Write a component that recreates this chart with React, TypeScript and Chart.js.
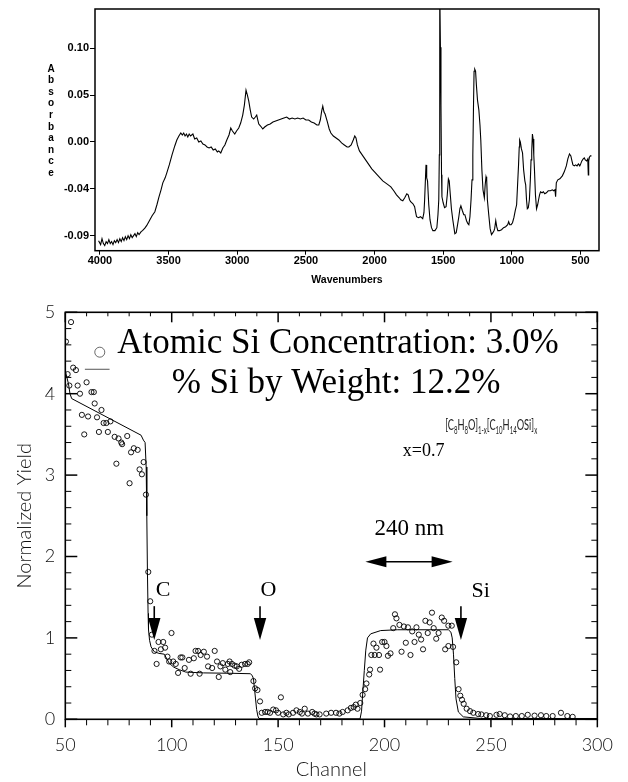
import React, { useEffect, useRef } from "react";
import { Chart, registerables } from "chart.js";

Chart.register(...registerables);

// ---------- Top panel: IR spectrum ----------
const wavenumbers = [
  4010, 3995, 3985, 3975, 3965, 3955, 3945, 3935, 3925, 3915, 3905, 3895, 3885, 3875, 3865, 3855,
  3845, 3835, 3825, 3815, 3805, 3795, 3785, 3775, 3765, 3755, 3745, 3735, 3725, 3715, 3700, 3690,
  3673, 3660, 3640, 3620, 3600, 3585, 3570, 3555, 3542, 3525, 3513, 3495, 3475, 3455, 3440, 3425,
  3411, 3400, 3390, 3380, 3370, 3360, 3350, 3340, 3323, 3310, 3295, 3280, 3265, 3250, 3235, 3220,
  3205, 3190, 3175, 3160, 3145, 3135, 3120, 3105, 3090, 3076, 3060, 3047, 3035, 3018, 3005, 2989,
  2975, 2960, 2948, 2936, 2926, 2916, 2905, 2895, 2880, 2868, 2858, 2850, 2843, 2830, 2814, 2800,
  2780, 2760, 2740, 2720, 2700, 2680, 2660, 2640, 2620, 2600, 2580, 2560, 2540, 2520, 2500, 2480,
  2460, 2440, 2420, 2406, 2395, 2385, 2377, 2368, 2360, 2345, 2330, 2318, 2300, 2280, 2260, 2240,
  2220, 2200, 2187, 2170, 2155, 2144, 2135, 2125, 2110, 2100, 2080, 2060, 2040, 2020, 2000, 1980,
  1960, 1940, 1920, 1900, 1881, 1860, 1840, 1820, 1809, 1794, 1780, 1765, 1755, 1745, 1737, 1720,
  1708, 1700, 1694, 1680, 1665, 1649, 1640, 1635, 1628, 1625, 1620, 1614, 1605, 1596, 1585, 1575,
  1560, 1546, 1538, 1532, 1528, 1526, 1524, 1520, 1516, 1512, 1509, 1500, 1490, 1479, 1470, 1462,
  1456, 1448, 1440, 1430, 1415, 1405, 1395, 1386, 1378, 1371, 1360, 1350, 1342, 1330, 1320, 1313,
  1305, 1297, 1290, 1284, 1279, 1275, 1270, 1264, 1258, 1250, 1240, 1232, 1226, 1218, 1210, 1205,
  1200, 1194, 1188, 1183, 1178, 1168, 1158, 1148, 1138, 1130, 1125, 1117, 1110, 1102, 1090, 1075,
  1060, 1045, 1030, 1023, 1015, 1005, 995, 985, 975, 965, 958, 951, 946, 943, 938, 930,
  922, 914, 905, 899, 893, 887, 880, 872, 865, 860, 855, 850, 845, 840, 835, 828,
  820, 812, 805, 798, 791, 780, 770, 760, 748, 735, 719, 705, 695, 686, 681, 676,
  665, 650, 632, 618, 603, 592, 580, 570, 562, 555, 545, 535, 525, 515, 505, 501,
  490, 480, 472, 465, 455, 447, 443, 440, 434, 428, 420,
];
const absorbance = [
  -0.096, -0.1, -0.094, -0.099, -0.101, -0.097, -0.099, -0.095, -0.099, -0.097, -0.1, -0.096, -0.098, -0.095, -0.098, -0.094,
  -0.097, -0.093, -0.096, -0.092, -0.095, -0.091, -0.094, -0.09, -0.093, -0.091, -0.089, -0.092, -0.088, -0.09, -0.087, -0.086,
  -0.0835, -0.081, -0.076, -0.071, -0.067, -0.06, -0.052, -0.045, -0.038, -0.033, -0.028, -0.02, -0.01, -0.001, 0.005, 0.009,
  0.012, 0.01, 0.012, 0.009, 0.011, 0.008, 0.011, 0.009, 0.011, 0.006, 0.007, 0.003, 0.004, 0.001, 0.0, -0.002,
  -0.003, -0.002, -0.005, -0.004, -0.007, -0.006, -0.008, -0.003, 0.0, 0.005, 0.01, 0.017, 0.014, 0.011, 0.014, 0.017,
  0.022, 0.03, 0.04, 0.055, 0.05, 0.044, 0.035, 0.028, 0.026, 0.028, 0.03, 0.025, 0.021, 0.019, 0.016, 0.018,
  0.02, 0.021, 0.023, 0.024, 0.025, 0.026, 0.027, 0.028, 0.026, 0.027, 0.026, 0.027, 0.026, 0.027, 0.025, 0.025,
  0.023, 0.022, 0.02, 0.02, 0.025, 0.034, 0.039, 0.033, 0.031, 0.024, 0.016, 0.012, 0.009, 0.007, 0.005, 0.002,
  0.0, -0.002, -0.002, 0.0, 0.005, 0.009, 0.007, 0.0, -0.006, -0.008, -0.012, -0.016, -0.02, -0.024, -0.027, -0.03,
  -0.033, -0.036, -0.038, -0.04, -0.042, -0.046, -0.05, -0.053, -0.055, -0.056, -0.053, -0.049, -0.05, -0.055, -0.057, -0.059,
  -0.062, -0.068, -0.072, -0.073, -0.072, -0.074, -0.068, -0.055, -0.03, -0.02, -0.033, -0.036, -0.06, -0.075, -0.083, -0.086,
  -0.086, -0.083, -0.07, -0.055, -0.01, 0.09, 0.16, 0.098, 0.04, -0.03, -0.052, -0.058, -0.063, -0.062, -0.05, -0.034,
  -0.036, -0.05, -0.064, -0.075, -0.089, -0.088, -0.08, -0.072, -0.064, -0.061, -0.066, -0.07, -0.07, -0.076, -0.079, -0.08,
  -0.072, -0.055, -0.035, -0.01, 0.04, 0.074, 0.076, 0.074, 0.06, 0.045, 0.035, 0.02, 0.005, -0.025, -0.045, -0.049,
  -0.053, -0.04, -0.032, -0.035, -0.055, -0.07, -0.084, -0.09, -0.088, -0.086, -0.084, -0.076, -0.082, -0.086, -0.086, -0.085,
  -0.083, -0.082, -0.08, -0.077, -0.08, -0.08, -0.078, -0.073, -0.066, -0.06, -0.04, -0.02, -0.002, 0.005, 0.003, -0.004,
  -0.008, -0.025, -0.036, -0.04, -0.055, -0.064, -0.063, -0.055, -0.035, -0.015, -0.006, 0.011, 0.006, -0.01, -0.025, -0.05,
  -0.064, -0.06, -0.055, -0.05, -0.047, -0.048, -0.047, -0.049, -0.048, -0.046, -0.046, -0.045, -0.046, -0.045, -0.052, -0.038,
  -0.035, -0.034, -0.031, -0.027, -0.021, -0.014, -0.009, -0.011, -0.016, -0.02, -0.021, -0.02, -0.021, -0.019, -0.021, -0.02,
  -0.016, -0.014, -0.013, -0.015, -0.016, -0.014, -0.03, -0.016, -0.012, -0.011, -0.011,
];
const wavenumberTicks = [4000, 3500, 3000, 2500, 2000, 1500, 1000, 500];
const absorbanceTickValues = [-0.091, -0.044, 0.003, 0.05, 0.097];
const absorbanceTickLabels = ["-0.09", "-0.04", "0.00", "0.05", "0.10"];
const absorbanceTitle = "Absorbance";
const wavenumberTitle = "Wavenumbers";

// ---------- Bottom panel: RBS spectrum ----------
const dataChannel = [
  50.3, 51.1, 51.9, 52.7, 53.7, 55.0, 55.8, 56.9, 57.8, 58.9, 60.0, 60.7, 62.3, 63.4, 63.8, 64.9,
  65.8, 67.0, 68.0, 69.3, 70.0, 71.2, 73.2, 74.0, 75.0, 76.3, 76.7, 79.1, 80.2, 80.9, 82.2, 84.0,
  84.9, 86.0, 86.8, 87.9, 89.0, 89.9, 90.7, 91.9, 92.9, 93.8, 94.9, 96.0, 96.9, 98.0, 98.8, 99.9,
  100.7, 101.9, 103.0, 104.2, 105.0, 106.1, 108.1, 108.9, 110.4, 111.2, 112.4, 113.1, 113.6, 115.1, 116.6, 117.1,
  119.0, 120.2, 121.3, 122.1, 122.9, 124.0, 125.2, 126.4, 127.2, 127.5, 128.3, 129.5, 130.6, 131.7, 132.9, 134.5,
  135.7, 136.4, 138.4, 139.2, 140.3, 141.5, 142.3, 143.9, 145.1, 146.2, 147.7, 149.0, 150.0, 151.3, 152.4, 153.9,
  155.0, 157.0, 158.6, 160.2, 161.2, 162.5, 164.0, 166.0, 167.1, 168.0, 169.5, 172.6, 174.9, 177.2, 178.8, 180.3,
  182.7, 184.2, 185.5, 186.5, 187.3, 188.6, 189.7, 190.9, 191.5, 192.8, 193.2, 193.8, 194.8, 195.4, 196.2, 197.4,
  197.9, 198.9, 200.0, 200.9, 201.6, 202.8, 204.1, 204.9, 205.6, 207.0, 208.0, 209.1, 210.0, 211.0, 212.2, 213.0,
  214.1, 215.0, 216.1, 217.2, 218.1, 219.2, 220.3, 221.2, 222.3, 223.1, 224.3, 225.4, 226.9, 228.0, 228.5, 230.0,
  230.0, 231.6, 232.2, 233.7, 234.8, 235.6, 236.4, 237.2, 238.6, 240.2, 241.7, 244.0, 245.5, 247.8, 249.5, 252.6,
  254.1, 256.5, 259.0, 261.7, 264.5, 267.3, 270.5, 273.5, 276.0, 279.0, 282.9, 285.9, 288.4,
];
const dataYield = [
  4.64, 4.24, 4.1, 4.88, 4.32, 4.29, 4.1, 4.0, 3.74, 3.5, 4.14, 3.72, 4.02, 4.02, 3.88, 3.71,
  3.53, 3.8, 3.64, 3.64, 3.53, 3.66, 3.47, 3.14, 3.45, 3.4, 3.38, 3.48, 2.9, 3.28, 3.33, 3.31,
  3.07, 3.01, 3.16, 2.76, 1.81, 1.45, 1.04, 0.84, 0.68, 0.95, 0.86, 0.95, 0.88, 0.77, 0.71, 1.06,
  0.71, 0.68, 0.57, 0.76, 0.76, 0.63, 0.73, 0.56, 0.75, 0.84, 0.84, 0.56, 0.79, 0.83, 0.77, 0.65,
  0.63, 0.84, 0.71, 0.52, 0.65, 0.69, 0.61, 0.68, 0.71, 0.58, 0.68, 0.66, 0.65, 0.62, 0.67, 0.68,
  0.68, 0.7, 0.47, 0.38, 0.36, 0.22, 0.08, 0.09, 0.09, 0.08, 0.12, 0.11, 0.08, 0.27, 0.06, 0.08,
  0.06, 0.08, 0.11, 0.09, 0.07, 0.13, 0.07, 0.09, 0.07, 0.06, 0.06, 0.07, 0.08, 0.08, 0.07, 0.09,
  0.11, 0.14, 0.15, 0.18, 0.13, 0.2, 0.3, 0.37, 0.44, 0.55, 0.61, 0.79, 0.93, 0.79, 0.88, 0.79,
  0.61, 0.95, 0.95, 0.9, 0.78, 0.81, 1.12, 1.29, 1.24, 1.16, 0.83, 1.14, 0.94, 1.13, 0.79, 1.08,
  0.95, 1.13, 1.04, 0.98, 0.86, 1.21, 1.06, 1.19, 1.31, 1.12, 0.99, 1.06, 1.25, 1.21, 0.86, 1.15,
  0.9, 1.15, 0.89, 0.7, 0.37, 0.29, 0.24, 0.19, 0.13, 0.1, 0.08, 0.065, 0.06, 0.05, 0.04, 0.055,
  0.065, 0.05, 0.035, 0.04, 0.04, 0.055, 0.045, 0.05, 0.04, 0.04, 0.08, 0.04, 0.03,
];
const fitChannel = [
  50, 51.5, 52.2, 53, 85.6, 86.7, 87.5, 88.0, 88.3, 88.6, 88.9, 89.1, 89.6, 90.3, 91.8, 94,
  96.5, 98.8, 101, 103.5, 106.6, 115, 128.3, 136.9, 137.8, 138.4, 139, 139.9, 140.5, 141, 150, 170,
  188.5, 189.2, 189.7, 190.5, 191.2, 192, 193.5, 198.2, 206, 230, 231.2, 231.8, 232.4, 233, 233.6, 234.7,
  237, 245, 300,
];
const fitYield = [
  4.28, 4.12, 4.0, 3.94, 3.49, 3.43, 3.4, 3.1, 2.5, 1.8, 1.3, 1.1, 0.97, 0.89, 0.83, 0.81,
  0.8, 0.69, 0.64, 0.61, 0.58, 0.57, 0.565, 0.56, 0.54, 0.5, 0.35, 0.12, 0.04, 0.01, 0.005, 0.005,
  0.005, 0.1, 0.3, 0.6, 0.85, 1.0, 1.05, 1.09, 1.1, 1.1, 1.07, 1.0, 0.8, 0.5, 0.25, 0.09,
  0.03, 0.01, 0.01,
];
const keyCircleChannel = [66.2];
const keyCircleYield = [4.51];
const keyLineChannel = [59.2, 70.8];
const keyLineYield = [4.3, 4.3];

const channelTicks = [50, 100, 150, 200, 250, 300];
const channelMinorStep = 10;
const yieldTicks = [0, 1, 2, 3, 4, 5];
const yieldMinorStep = 0.2;
const channelTitle = "Channel";
const yieldTitle = "Normalized Yield";

const headlineText = ["Atomic Si Concentration: 3.0%", "% Si by Weight: 12.2%"];
const headlineChannel = [178.1, 177.2];
const headlineYield = [4.5, 4.01];

// formula [C8H8O]1-x[C10H14OSi]x : [text, isSubscript]
const formulaParts: [string, boolean][] = [
  ["[C", false], ["8", true], ["H", false], ["8", true], ["O]", false], ["1-x", true],
  ["[C", false], ["10", true], ["H", false], ["14", true], ["OSi]", false], ["x", true],
];
const formulaChannel = 228.5;
const formulaYield = 3.56;
const compositionText = "x=0.7";
const compositionChannel = 218.4;
const compositionYield = 3.24;

const edgeLabels = ["C", "O", "Si"];
const edgeLabelChannel = [95.9, 145.4, 245.2];
const edgeLabelYield = [1.515, 1.515, 1.5];
const edgeArrowChannel = [91.8, 141.5, 235.9];
const edgeArrowTop = [1.39, 1.39, 1.39];
const edgeArrowTip = [0.974, 0.974, 0.974];

const spanText = "240 nm";
const spanTextChannel = 211.6;
const spanTextYield = 2.27;
const spanChannel = [191, 232];
const spanYield = 1.936;

const SANS_BOLD = '"Liberation Sans", Arial, sans-serif';
const LIGHT = 'Lato, "Open Sans", "DejaVu Sans", sans-serif';
const SERIF = '"Liberation Serif", "Times New Roman", serif';

function IRChart() {
  const ref = useRef<HTMLCanvasElement>(null);
  useEffect(() => {
    if (!ref.current) return;
    const points = wavenumbers.map((w, i) => ({ x: w, y: absorbance[i] }));
    const decor = {
      id: "irDecor",
      afterDatasetsDraw(chart: any) {
        const { ctx, chartArea: a } = chart;
        ctx.save();
        ctx.strokeStyle = "#000";
        ctx.lineWidth = 1.5;
        ctx.strokeRect(a.left, a.top, a.right - a.left, a.bottom - a.top);
        ctx.fillStyle = "#000";
        ctx.font = `bold 10px ${SANS_BOLD}`;
        ctx.textAlign = "center";
        ctx.textBaseline = "middle";
        const letters = absorbanceTitle.split("");
        const step = 11.55;
        const start = a.top + 60;
        letters.forEach((ch, i) => ctx.fillText(ch, 51, start + i * step));
        ctx.restore();
      },
    };
    const chart = new Chart(ref.current, {
      type: "line",
      data: {
        datasets: [
          {
            data: points,
            borderColor: "#000",
            borderWidth: 1.1,
            pointRadius: 0,
            tension: 0,
            fill: false,
          },
        ],
      },
      options: {
        animation: false,
        responsive: false,
        maintainAspectRatio: false,
        layout: { padding: { top: 9, right: 29, left: 0, bottom: 0 } },
        plugins: { legend: { display: false }, tooltip: { enabled: false } },
        scales: {
          x: {
            type: "linear",
            reverse: true,
            min: 365,
            max: 4036,
            afterBuildTicks: (s: any) => {
              s.ticks = wavenumberTicks.map((v) => ({ value: v }));
            },
            afterFit: (s: any) => {
              s.height = 39.3;
            },
            grid: { display: true, drawOnChartArea: false, drawTicks: true, tickLength: 4, color: "#000", lineWidth: 1 },
            border: { display: false },
            ticks: {
              font: { family: SANS_BOLD, size: 11, weight: "bold" },
              color: "#000",
              padding: 0,
              maxRotation: 0,
              autoSkip: false,
              callback: (v: any) => String(v),
            },
            title: {
              display: true,
              text: wavenumberTitle,
              font: { family: SANS_BOLD, size: 10.5, weight: "bold" },
              color: "#000",
              padding: { top: 0, bottom: 4 },
            },
          },
          y: {
            min: -0.1061,
            max: 0.1364,
            afterBuildTicks: (s: any) => {
              s.ticks = absorbanceTickValues.map((v) => ({ value: v }));
            },
            afterFit: (s: any) => {
              s.width = 95;
            },
            grid: { display: true, drawOnChartArea: false, drawTicks: true, tickLength: 5, color: "#000", lineWidth: 1 },
            border: { display: false },
            ticks: {
              font: { family: SANS_BOLD, size: 11, weight: "bold" },
              color: "#000",
              padding: 1,
              autoSkip: false,
              callback: (_v: any, i: number) => absorbanceTickLabels[i],
            },
          },
        },
      } as any,
      plugins: [decor],
    });
    return () => chart.destroy();
  }, []);
  return (
    <canvas
      ref={ref}
      width={628}
      height={290}
      style={{ position: "absolute", left: 0, top: 0, width: 628, height: 290 }}
    />
  );
}

function RBSChart() {
  const ref = useRef<HTMLCanvasElement>(null);
  useEffect(() => {
    if (!ref.current) return;
    const scatter = dataChannel.map((c, i) => ({ x: c, y: dataYield[i] }));
    const fit = fitChannel.map((c, i) => ({ x: c, y: fitYield[i] }));
    const keyCircle = keyCircleChannel.map((c, i) => ({ x: c, y: keyCircleYield[i] }));
    const keyLine = keyLineChannel.map((c, i) => ({ x: c, y: keyLineYield[i] }));

    const decor = {
      id: "rbsDecor",
      afterDatasetsDraw(chart: any) {
        const { ctx, chartArea: a, scales } = chart;
        const xs = scales.x;
        const ys = scales.y;
        const seg = (x1: number, y1: number, x2: number, y2: number) => {
          ctx.beginPath();
          ctx.moveTo(x1, y1);
          ctx.lineTo(x2, y2);
          ctx.stroke();
        };
        ctx.save();
        ctx.strokeStyle = "#000";
        ctx.fillStyle = "#000";
        // frame
        ctx.lineWidth = 1.6;
        ctx.strokeRect(a.left, a.top, a.right - a.left, a.bottom - a.top);
        // y ticks, both sides inward
        const yMin = yieldTicks[0];
        const yMax = yieldTicks[yieldTicks.length - 1];
        const nY = Math.round((yMax - yMin) / yieldMinorStep);
        for (let k = 0; k <= nY; k++) {
          const v = yMin + k * yieldMinorStep;
          const major = yieldTicks.some((t) => Math.abs(t - v) < 1e-6);
          const py = ys.getPixelForValue(v);
          ctx.lineWidth = major ? 1.5 : 1;
          const len = major ? 12 : 6;
          seg(a.left, py, a.left + len, py);
          seg(a.right, py, a.right - len, py);
        }
        // x ticks: bottom outward, top inward
        const cMin = channelTicks[0];
        const cMax = channelTicks[channelTicks.length - 1];
        const nX = Math.round((cMax - cMin) / channelMinorStep);
        for (let k = 0; k <= nX; k++) {
          const v = cMin + k * channelMinorStep;
          const major = channelTicks.includes(v);
          const px = xs.getPixelForValue(v);
          ctx.lineWidth = major ? 1.5 : 1;
          seg(px, a.bottom, px, a.bottom + (major ? 8 : 6));
          seg(px, a.top, px, a.top + (major ? 10 : 4));
        }
        // headline
        ctx.textAlign = "center";
        ctx.textBaseline = "alphabetic";
        ctx.font = `35px ${SERIF}`;
        headlineText.forEach((t, i) =>
          ctx.fillText(t, xs.getPixelForValue(headlineChannel[i]), ys.getPixelForValue(headlineYield[i]))
        );
        // formula
        const mainFont = `16px ${LIGHT}`;
        const subFont = `10.5px ${LIGHT}`;
        let total = 0;
        formulaParts.forEach(([t, sub]) => {
          ctx.font = sub ? subFont : mainFont;
          total += ctx.measureText(t).width;
        });
        const targetW = 92;
        const sx = Math.min(1, targetW / total);
        ctx.save();
        ctx.translate(xs.getPixelForValue(formulaChannel), ys.getPixelForValue(formulaYield));
        ctx.scale(sx, 1);
        ctx.textAlign = "left";
        ctx.fillStyle = "#222";
        let cx = 0;
        formulaParts.forEach(([t, sub]) => {
          ctx.font = sub ? subFont : mainFont;
          ctx.fillText(t, cx, sub ? 4 : 0);
          cx += ctx.measureText(t).width;
        });
        ctx.restore();
        ctx.textAlign = "center";
        ctx.font = `18px ${SERIF}`;
        ctx.fillText(compositionText, xs.getPixelForValue(compositionChannel), ys.getPixelForValue(compositionYield));
        // span text and double arrow
        ctx.font = `23px ${SERIF}`;
        ctx.fillText(spanText, xs.getPixelForValue(spanTextChannel), ys.getPixelForValue(spanTextYield));
        const sx1 = xs.getPixelForValue(spanChannel[0]);
        const sx2 = xs.getPixelForValue(spanChannel[1]);
        const sy = ys.getPixelForValue(spanYield);
        const head = 21;
        const half = 5.5;
        ctx.lineWidth = 1.6;
        seg(sx1 + head - 2, sy, sx2 - head + 2, sy);
        ctx.beginPath();
        ctx.moveTo(sx1, sy);
        ctx.lineTo(sx1 + head, sy - half);
        ctx.lineTo(sx1 + head, sy + half);
        ctx.closePath();
        ctx.fill();
        ctx.beginPath();
        ctx.moveTo(sx2, sy);
        ctx.lineTo(sx2 - head, sy - half);
        ctx.lineTo(sx2 - head, sy + half);
        ctx.closePath();
        ctx.fill();
        // edge labels and arrows
        ctx.font = `22px ${SERIF}`;
        edgeLabels.forEach((t, i) =>
          ctx.fillText(t, xs.getPixelForValue(edgeLabelChannel[i]), ys.getPixelForValue(edgeLabelYield[i]))
        );
        edgeArrowChannel.forEach((c, i) => {
          const px = xs.getPixelForValue(c);
          const top = ys.getPixelForValue(edgeArrowTop[i]);
          const tip = ys.getPixelForValue(edgeArrowTip[i]);
          const hl = 22;
          const hw = 6.2;
          ctx.lineWidth = 1.6;
          seg(px, top, px, tip - hl + 2);
          ctx.beginPath();
          ctx.moveTo(px, tip);
          ctx.lineTo(px - hw, tip - hl);
          ctx.lineTo(px + hw, tip - hl);
          ctx.closePath();
          ctx.fill();
        });
        ctx.restore();
      },
    };

    const chart = new Chart(ref.current, {
      type: "scatter",
      data: {
        datasets: [
          {
            data: fit,
            showLine: true,
            borderColor: "#000",
            borderWidth: 1,
            pointRadius: 0,
            tension: 0,
          },
          {
            data: scatter,
            showLine: false,
            pointStyle: "circle",
            pointRadius: 2.6,
            borderWidth: 0.9,
            borderColor: "#000",
            backgroundColor: "rgba(255,255,255,0)",
          },
          {
            data: keyCircle,
            showLine: false,
            pointRadius: 5,
            borderWidth: 0.8,
            borderColor: "#444",
            backgroundColor: "rgba(255,255,255,0)",
          },
          {
            data: keyLine,
            showLine: true,
            borderColor: "#555",
            borderWidth: 1,
            pointRadius: 0,
          },
        ],
      },
      options: {
        animation: false,
        responsive: false,
        maintainAspectRatio: false,
        layout: { padding: { top: 22.3, right: 22.3, left: 0, bottom: 0 } },
        plugins: { legend: { display: false }, tooltip: { enabled: false } },
        scales: {
          x: {
            type: "linear",
            min: channelTicks[0],
            max: channelTicks[channelTicks.length - 1],
            afterBuildTicks: (s: any) => {
              s.ticks = channelTicks.map((v) => ({ value: v }));
            },
            afterFit: (s: any) => {
              s.height = 62.7;
            },
            grid: { display: false, drawTicks: false },
            border: { display: false },
            ticks: {
              font: { family: LIGHT, size: 18, weight: 300 },
              color: "#111",
              padding: 15,
              maxRotation: 0,
              autoSkip: false,
              callback: (v: any) => String(v),
            },
            title: {
              display: true,
              text: channelTitle,
              font: { family: LIGHT, size: 20, weight: 300 },
              color: "#111",
              padding: { top: 0, bottom: 0 },
            },
          },
          y: {
            type: "linear",
            min: yieldTicks[0],
            max: yieldTicks[yieldTicks.length - 1],
            afterBuildTicks: (s: any) => {
              s.ticks = yieldTicks.map((v) => ({ value: v }));
            },
            afterFit: (s: any) => {
              s.width = 65.3;
            },
            grid: { display: false, drawTicks: false },
            border: { display: false },
            ticks: {
              font: { family: LIGHT, size: 18, weight: 300 },
              color: "#111",
              padding: 10,
              autoSkip: false,
              callback: (v: any) => String(v),
            },
            title: {
              display: true,
              text: yieldTitle,
              font: { family: LIGHT, size: 20, weight: 300 },
              color: "#111",
              padding: { top: 13, bottom: 0 },
            },
          },
        },
      } as any,
      plugins: [decor],
    });
    return () => chart.destroy();
  }, []);
  return (
    <canvas
      ref={ref}
      width={628}
      height={492}
      style={{ position: "absolute", left: 0, top: 290, width: 628, height: 492 }}
    />
  );
}

export default function App() {
  return (
    <div style={{ position: "absolute", left: 0, top: 0, width: 628, height: 782, background: "#fff" }}>
      <IRChart />
      <RBSChart />
    </div>
  );
}
